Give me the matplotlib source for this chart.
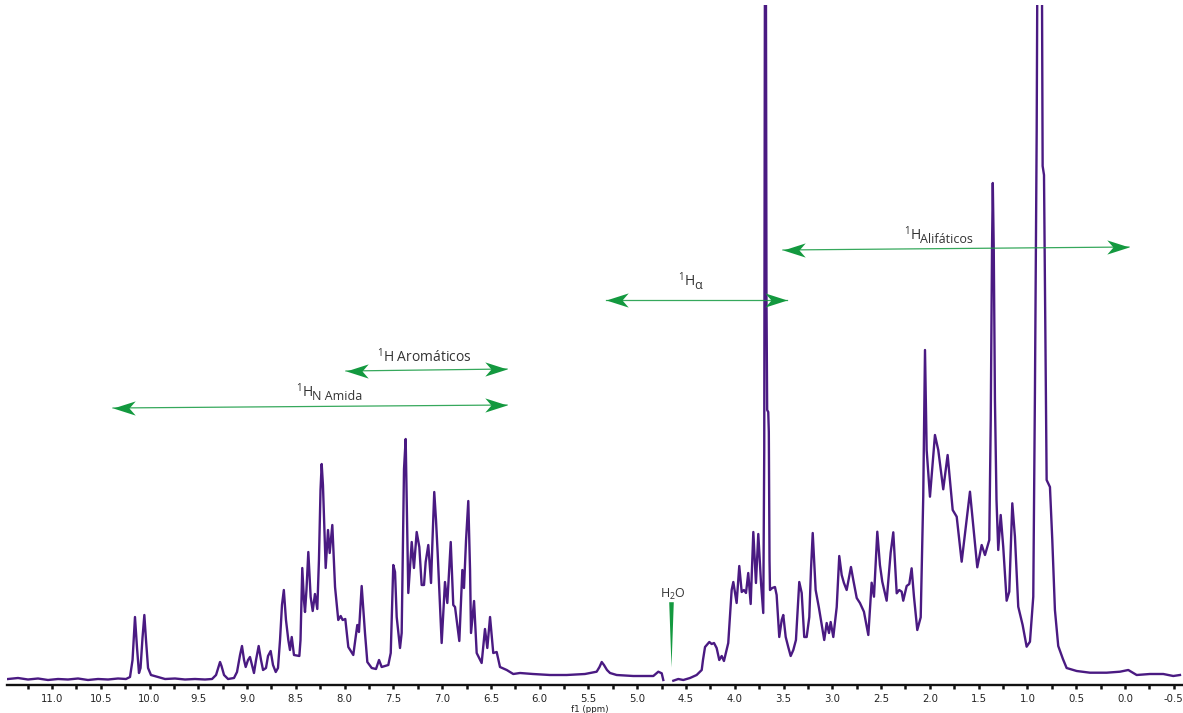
import numpy as np
import matplotlib
matplotlib.use('Agg')
import matplotlib.pyplot as plt
from matplotlib.path import Path
from matplotlib.ticker import MultipleLocator, FormatStrFormatter

# 1H spectrum (ppm, intensity); NaN = gap at the water signal
ppm = [
    11.450, 11.348, 11.246, 11.143, 11.041, 10.938, 10.836, 10.733, 10.631, 10.528,
    10.425, 10.323, 10.241, 10.200, 10.174, 10.149, 10.128, 10.108, 10.092, 10.072,
    10.053, 10.036, 10.015, 9.985, 9.913, 9.841, 9.739, 9.636, 9.534, 9.431,
    9.359, 9.318, 9.293, 9.277, 9.262, 9.236, 9.195, 9.134, 9.103, 9.072,
    9.052, 9.031, 9.014, 8.990, 8.970, 8.949, 8.929, 8.908, 8.881, 8.857,
    8.836, 8.806, 8.785, 8.758, 8.734, 8.706, 8.683, 8.662, 8.642, 8.623,
    8.601, 8.577, 8.560, 8.542, 8.519, 8.464, 8.452, 8.434, 8.417, 8.406,
    8.391, 8.372, 8.348, 8.327, 8.304, 8.280, 8.263, 8.247, 8.235, 8.222,
    8.194, 8.170, 8.153, 8.126, 8.098, 8.065, 8.040, 8.020, 7.993, 7.962,
    7.911, 7.870, 7.853, 7.825, 7.791, 7.767, 7.722, 7.678, 7.647, 7.620,
    7.552, 7.527, 7.514, 7.501, 7.483, 7.466, 7.432, 7.415, 7.401, 7.391,
    7.374, 7.360, 7.347, 7.312, 7.289, 7.261, 7.234, 7.210, 7.186, 7.169,
    7.142, 7.114, 7.099, 7.081, 7.063, 7.046, 7.005, 6.971, 6.947, 6.912,
    6.886, 6.868, 6.824, 6.793, 6.776, 6.755, 6.732, 6.714, 6.704, 6.673,
    6.646, 6.595, 6.561, 6.537, 6.509, 6.476, 6.441, 6.407, 6.338, 6.271,
    6.202, 6.069, 5.894, 5.723, 5.536, 5.416, 5.387, 5.364, 5.341, 5.310,
    5.279, 5.211, 5.041, 4.835, 4.784, 4.749, 4.733,
    np.nan,
    4.630, 4.579, 4.528, 4.459, 4.391, 4.339, 4.326, 4.305, 4.261, 4.237,
    4.213, 4.186, 4.159, 4.134, 4.111, 4.067, 4.049, 4.032, 4.015, 3.981,
    3.954, 3.929, 3.906, 3.885, 3.862, 3.837, 3.810, 3.783, 3.759, 3.731,
    3.708, 3.698, 3.690, 3.682, 3.675, 3.668, 3.657, 3.651, 3.644, 3.639,
    3.616, 3.588, 3.571, 3.544, 3.519, 3.503, 3.478, 3.452, 3.427, 3.400,
    3.373, 3.339, 3.314, 3.288, 3.263, 3.236, 3.219, 3.201, 3.171, 3.137,
    3.083, 3.058, 3.034, 3.017, 2.990, 2.955, 2.929, 2.904, 2.881, 2.853,
    2.809, 2.785, 2.750, 2.717, 2.676, 2.631, 2.597, 2.573, 2.539, 2.512,
    2.488, 2.443, 2.402, 2.375, 2.340, 2.314, 2.289, 2.273, 2.238, 2.211,
    2.187, 2.163, 2.129, 2.094, 2.068, 2.050, 2.033, 1.999, 1.948, 1.914,
    1.863, 1.818, 1.766, 1.725, 1.674, 1.589, 1.514, 1.469, 1.435, 1.391,
    1.376, 1.363, 1.355, 1.345, 1.333, 1.317, 1.299, 1.274, 1.248, 1.213,
    1.186, 1.155, 1.128, 1.094, 1.049, 1.008, 0.974, 0.940, 0.923, 0.905,
    0.895, 0.854, 0.844, 0.830, 0.803, 0.769, 0.745, 0.718, 0.684, 0.636,
    0.598, 0.495, 0.359, 0.188, 0.051, -0.034, -0.120, -0.256, -0.393, -0.495,
    -0.564,
]
intensity = [
    6, 7, 5.5, 6.5, 5, 6, 5.5, 6.5, 5, 6,
    5.5, 6.5, 6, 8, 25, 68, 37, 12, 17, 47,
    70, 45, 17, 10, 8, 6, 6.5, 5.5, 6, 5.5,
    6, 10, 18, 23, 19, 10, 6, 7, 13, 30,
    39, 25, 18, 25, 28, 20, 12, 25, 39, 25,
    15, 17, 29, 34, 20, 13, 17, 45, 80, 95,
    65, 45, 35, 48, 30, 29, 45, 117, 85, 73,
    95, 133, 88, 74, 91, 76, 125, 195, 221, 200,
    117, 155, 132, 160, 98, 65, 69, 65, 66, 38,
    30, 60, 53, 99, 52, 23, 17, 16, 25, 18,
    20, 32, 75, 120, 113, 68, 37, 52, 145, 216,
    246, 165, 92, 143, 117, 153, 138, 100, 100, 123,
    140, 102, 145, 193, 165, 132, 42, 103, 82, 143,
    80, 78, 44, 115, 97, 145, 184, 115, 52, 84,
    32, 22, 56, 37, 68, 32, 33, 18, 15, 11,
    12, 11, 10, 10, 11, 13.3, 18, 23, 20, 15,
    12, 10, 9, 9, 13.3, 11.7, 5,
    np.nan,
    4.3, 6, 5, 7, 10, 15, 25, 38, 43, 41,
    42, 37, 25, 29, 24, 42, 70, 95, 103, 82,
    119, 93, 95, 92, 112, 81, 153, 102, 151, 102,
    72, 235, 785, 785, 385, 275, 273, 253, 125, 95,
    97, 98, 90, 48, 65, 70, 48, 38, 29, 35,
    45, 103, 92, 48, 48, 68, 115, 152, 95, 77,
    45, 62, 52, 63, 48, 78, 129, 110, 102, 95,
    118, 105, 87, 82, 73.3, 50, 102.3, 88.3, 153.3, 120,
    103.3, 84.3, 132.3, 152.7, 91.7, 95, 93.3, 84.3, 99, 101,
    116.7, 88.3, 55, 67.7, 188.3, 335, 235, 188.3, 250, 235,
    195.7, 230, 175, 168.3, 123.3, 193.3, 117.7, 140, 130, 145,
    265, 435, 502, 435, 285, 185, 135, 170, 138.3, 84.3,
    93.3, 181.7, 148.3, 78.3, 60, 38.3, 43.3, 88.3, 292, 554,
    785, 785, 519, 510, 205, 198, 145, 75, 39, 26,
    17, 14, 12.3, 12.3, 13.3, 15, 10, 11, 11, 9,
    10,
]

# region arrows: left end, right end (ppm, intensity)
left_ppm = [10.374, 7.986, 5.320, 3.506]
left_int = [277, 314, 385, 435]
right_ppm = [6.335, 6.335, 3.465, -0.041]
right_int = [280, 316, 385, 438]

# region labels: "¹H" part, lowered part, where the two parts meet
label_main = [r'$\mathregular{^1}$H', r'$\mathregular{^1}$H Aromáticos',
              r'$\mathregular{^1}$H', r'$\mathregular{^1}$H']
label_sub = ['N Amida', '', 'α', 'Alifáticos']
label_ppm = [8.324, 7.186, 4.408, 2.091]
label_int = [288, 323, 399, 445]

water_ppm = 4.654
water_top = 83

line_col = '#4a1a82'
green = '#13993f'
text_col = '#333333'

fig = plt.figure(figsize=(11.83, 7.13), dpi=100)
ax = fig.add_axes([7 / 1183, 1 - 685 / 713, 1 - 7 / 1183, 680 / 713])

ax.plot(ppm, intensity, color=line_col, lw=1.7, solid_joinstyle='round')

ax.set_xlim(11.461, -0.595)
ax.set_ylim(0, 680)

for s in ['top', 'left', 'right']:
    ax.spines[s].set_visible(False)
ax.spines['bottom'].set_linewidth(1.7)
ax.spines['bottom'].set_color('#111111')
ax.set_yticks([])
ax.xaxis.set_major_locator(MultipleLocator(0.5))
ax.xaxis.set_minor_locator(MultipleLocator(0.25))
ax.xaxis.set_major_formatter(FormatStrFormatter('%.1f'))
ax.tick_params(axis='x', which='both', direction='out', length=3, width=1.8,
               color='#111111', labelsize=7.3, pad=3.5, labelcolor='#222222')
ax.set_xlabel('f1 (ppm)', fontsize=6.3, color='#222222')
ax.xaxis.set_label_coords(0.4957, -0.029)

# stealth-style arrow heads, tip at the data point
head_r = Path([(0, 0), (-1, 0.32), (-0.72, 0), (-1, -0.32), (0, 0)],
              [Path.MOVETO, Path.LINETO, Path.LINETO, Path.LINETO, Path.CLOSEPOLY])
head_l = Path([(0, 0), (1, 0.32), (0.72, 0), (1, -0.32), (0, 0)],
              [Path.MOVETO, Path.LINETO, Path.LINETO, Path.LINETO, Path.CLOSEPOLY])

for i in range(len(left_ppm)):
    ax.plot([left_ppm[i], right_ppm[i]], [left_int[i], right_int[i]],
            color=green, lw=0.9, alpha=0.85)
    ax.plot(left_ppm[i], left_int[i], marker=head_l, ms=32, color=green, mew=0)
    ax.plot(right_ppm[i], right_int[i], marker=head_r, ms=32, color=green, mew=0)

for i in range(len(label_main)):
    if label_sub[i]:
        ax.text(label_ppm[i], label_int[i], label_main[i], ha='right', va='baseline',
                fontsize=10, color=text_col, family='Open Sans')
        ax.annotate(label_sub[i], (label_ppm[i], label_int[i]), xytext=(-0.5, -2),
                    textcoords='offset points', ha='left', va='baseline',
                    fontsize=9, color=text_col, family='Open Sans')
    else:
        ax.text(label_ppm[i], label_int[i], label_main[i], ha='center', va='baseline',
                fontsize=10, color=text_col, family='Open Sans')

# water marker
wedge = Path([(0, 0), (-0.035, 1), (0.035, 1), (0, 0)],
             [Path.MOVETO, Path.LINETO, Path.LINETO, Path.CLOSEPOLY])
ax.plot(water_ppm, water_top - 65, marker=wedge, ms=94, color=green, mew=0)
ax.text(water_ppm - 0.02, water_top + 4, r'$\mathregular{H_2O}$', ha='center',
        va='baseline', fontsize=9, color=text_col, family='Open Sans')

plt.savefig('out.png', dpi=100)
